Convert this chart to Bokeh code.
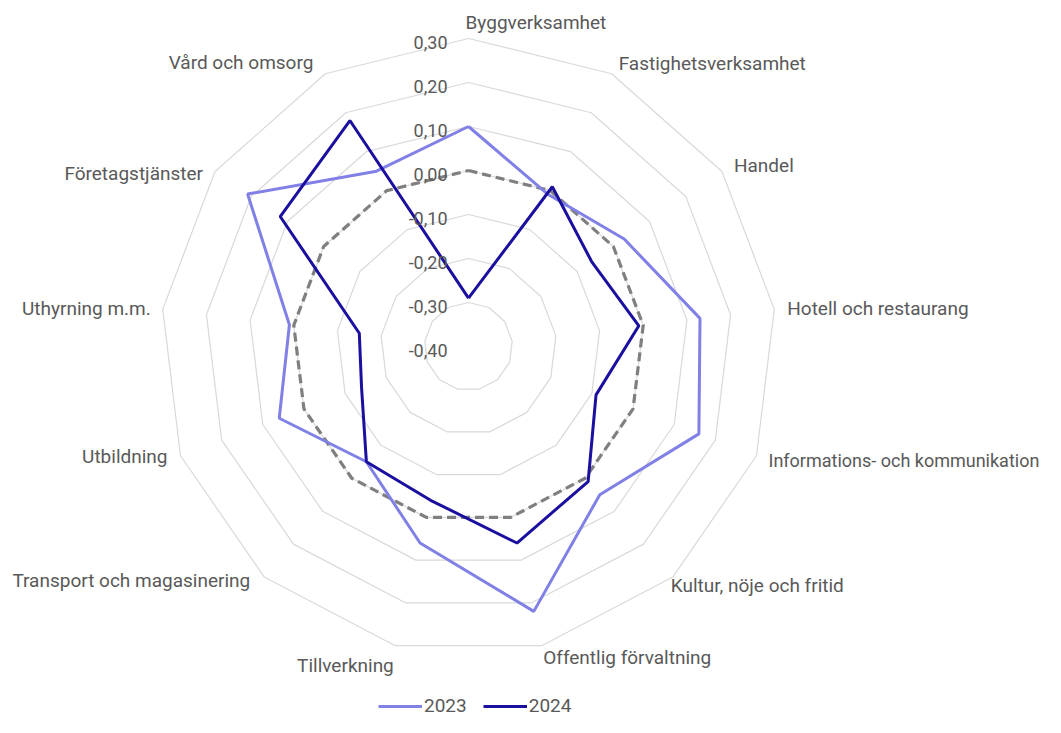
import numpy as np
from bokeh.plotting import figure
from bokeh.models import Range1d, ColumnDataSource, Legend, LegendItem
from bokeh.core.properties import value
from bokeh.embed import file_html
from bokeh.resources import INLINE

categories = ["Byggverksamhet", "Fastighetsverksamhet", "Handel", "Hotell och restaurang",
              "Informations- och kommunikation", "Kultur, nöje och fritid", "Offentlig förvaltning",
              "Tillverkning", "Transport och magasinering", "Utbildning", "Uthyrning m.m.",
              "Företagstjänster", "Vård och omsorg"]
v2023 = [0.10, -0.01, 0.03, 0.13, 0.16, 0.05, 0.22, 0.06, -0.05, 0.06, 0.01, 0.21, 0.05]
v2024 = [-0.29, 0.01, -0.06, -0.01, -0.09, 0.01, 0.06, -0.04, -0.05, -0.14, -0.15, 0.12, 0.18]
zero_line = [0.0] * 13
tick_values = [0.30, 0.20, 0.10, 0.00, -0.10, -0.20, -0.30, -0.40]
tick_labels = ["0,30", "0,20", "0,10", "0,00", "-0,10", "-0,20", "-0,30", "-0,40"]
series_names = ["2023", "2024"]

RMIN = -0.40
RMAX = 0.30
N = len(categories)
theta = 2 * np.pi * np.arange(N) / N

def polar(vals, close=True):
    r = np.array(vals) - RMIN
    xs = r * np.sin(theta)
    ys = r * np.cos(theta)
    if close:
        xs = np.append(xs, xs[0])
        ys = np.append(ys, ys[0])
    return xs, ys

W, H = 1045, 717
SCALE = 440.0
CX, CY = 468, 346
p = figure(width=W, height=H, output_backend="svg", toolbar_location=None,
           x_range=Range1d(-CX / SCALE, (W - CX) / SCALE),
           y_range=Range1d(-(H - CY) / SCALE, CY / SCALE),
           x_axis_type=None, y_axis_type=None, min_border=0,
           outline_line_color=None, background_fill_color="white")
p.xgrid.visible = False
p.ygrid.visible = False

FONT = value("Roboto")
GRID = "#d9d9d9"
TXT = "#595959"

# rings
for t in tick_values:
    if t > RMIN:
        xs, ys = polar([t] * N)
        p.line(xs, ys, line_color=GRID, line_width=1.2)

# zero reference dashed
xs, ys = polar(zero_line)
p.line(xs, ys, line_color="#7f7f7f", line_width=3.2, line_dash="9 5")

xs, ys = polar(v2023)
r23 = p.line(xs, ys, line_color="#8080e6", line_width=3)
xs, ys = polar(v2024)
r24 = p.line(xs, ys, line_color="#1a0f9e", line_width=3)

# tick labels along top axis
p.text(x=[0.0] * len(tick_values), y=[t - RMIN for t in tick_values], text=tick_labels,
       text_font=FONT, text_font_size="18px", text_color=TXT,
       text_align="right", text_baseline="middle", x_offset=-21, y_offset=4)

# category labels
lx, ly = polar([RMAX] * N, close=False)
dx = [-3, 7, 12, 13, 12, -2, 1, -1, -14, -13, -12, -12, -12]
dy = [-16, -10, -6, -1, 5, 8, 12, 20, 3, 1, -1, 2, -11]
align = ["left"] * 7 + ["right"] * 6
fsize = ["19px"] * N
fsize[4] = "18px"
src = ColumnDataSource(dict(x=lx, y=ly, text=categories, dx=dx, dy=dy, align=align, fs=fsize))
p.text(x="x", y="y", text="text", x_offset="dx", y_offset="dy", text_align="align",
       source=src, text_font=FONT, text_font_size="fs", text_color=TXT,
       text_baseline="middle")

legend = Legend(items=[LegendItem(label=series_names[0], renderers=[r23]),
                       LegendItem(label=series_names[1], renderers=[r24])],
                orientation="horizontal", location=(378, 0),
                border_line_color=None, background_fill_alpha=0,
                label_text_font="Roboto", label_text_font_size="19px",
                label_text_color=TXT, glyph_width=44, glyph_height=20,
                spacing=16, padding=0, margin=0, label_standoff=2)
p.add_layout(legend)

open("out.html", "w").write(file_html(p, INLINE))
